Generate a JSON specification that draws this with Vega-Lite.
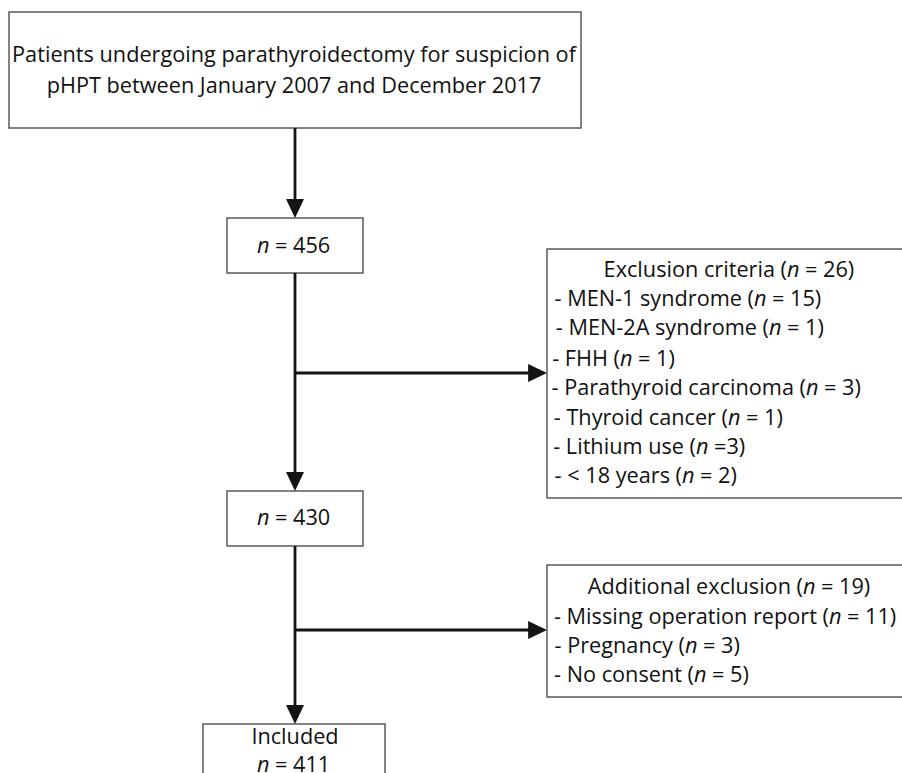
{
  "$schema": "https://vega.github.io/schema/vega-lite/v6.json",
  "width": 902,
  "height": 773,
  "padding": 0,
  "autosize": {"type": "none"},
  "background": "white",
  "config": {"view": {"stroke": null}},
  "datasets": {
    "boxes": [
      {"box": "start", "x": 9, "x2": 581, "y": 12, "y2": 128},
      {"box": "n456", "x": 227, "x2": 363, "y": 218, "y2": 273},
      {"box": "exclusion", "x": 547, "x2": 910, "y": 249, "y2": 498},
      {"box": "n430", "x": 227, "x2": 363, "y": 491, "y2": 546},
      {"box": "additional", "x": 547, "x2": 910, "y": 565, "y2": 697},
      {"box": "included", "x": 203, "x2": 385, "y": 724, "y2": 800}
    ],
    "links": [
      {"x": 295, "y": 128, "x2": 295, "y2": 205},
      {"x": 295, "y": 273, "x2": 295, "y2": 478},
      {"x": 295, "y": 373, "x2": 534, "y2": 373},
      {"x": 295, "y": 546, "x2": 295, "y2": 711},
      {"x": 295, "y": 630, "x2": 534, "y2": 630}
    ],
    "heads": [
      {"x": 295, "y": 218, "dir": "down"},
      {"x": 295, "y": 491, "dir": "down"},
      {"x": 547, "y": 373, "dir": "right"},
      {"x": 295, "y": 724, "dir": "down"},
      {"x": 547, "y": 630, "dir": "right"}
    ],
    "plain": [
      {"t": "Patients undergoing parathyroidectomy for suspicion of", "x": 294, "y": 55},
      {"t": "pHPT between January 2007 and December 2017", "x": 294, "y": 86},
      {"t": "Included", "x": 295, "y": 737}
    ],
    "seg": [
      {"pre": "", "post": "= 456", "nx": 257, "y": 246},
      {"pre": "Exclusion criteria (", "post": "= 26)", "nx": 787, "y": 270},
      {"pre": "- MEN-1 syndrome (", "post": "= 15)", "nx": 754, "y": 299},
      {"pre": "- MEN-2A syndrome (", "post": "= 1)", "nx": 769, "y": 328},
      {"pre": "- FHH (", "post": "= 1)", "nx": 620, "y": 359},
      {"pre": "- Parathyroid carcinoma (", "post": "= 3)", "nx": 806, "y": 388},
      {"pre": "- Thyroid cancer (", "post": "= 1)", "nx": 728, "y": 418},
      {"pre": "- Lithium use (", "post": "=3)", "nx": 696, "y": 447},
      {"pre": "- < 18 years (", "post": "= 2)", "nx": 682, "y": 476},
      {"pre": "", "post": "= 430", "nx": 257, "y": 518},
      {"pre": "Additional exclusion (", "post": "= 19)", "nx": 803, "y": 587},
      {"pre": "- Missing operation report (", "post": "= 11)", "nx": 829, "y": 617},
      {"pre": "- Pregnancy (", "post": "= 3)", "nx": 685, "y": 646},
      {"pre": "- No consent (", "post": "= 5)", "nx": 694, "y": 675},
      {"pre": "", "post": "= 411", "nx": 257, "y": 765}
    ]
  },
  "layer": [
    {
      "data": {"name": "boxes"},
      "mark": {"type": "rect", "fill": "white", "stroke": "#595959", "strokeWidth": 1.5},
      "encoding": {
        "x": {"field": "x", "type": "quantitative", "scale": {"domain": [0, 902], "nice": false, "zero": false}, "axis": null},
        "x2": {"field": "x2"},
        "y": {"field": "y", "type": "quantitative", "scale": {"domain": [0, 773], "nice": false, "zero": false, "reverse": true}, "axis": null},
        "y2": {"field": "y2"}
      }
    },
    {
      "data": {"name": "links"},
      "mark": {"type": "rule", "color": "#141414", "strokeWidth": 2.8},
      "encoding": {
        "x": {"field": "x", "type": "quantitative"},
        "x2": {"field": "x2"},
        "y": {"field": "y", "type": "quantitative"},
        "y2": {"field": "y2"}
      }
    },
    {
      "data": {"name": "heads"},
      "mark": {"type": "point", "filled": true, "color": "#141414", "opacity": 1, "size": 324, "strokeWidth": 0},
      "encoding": {
        "x": {"field": "x", "type": "quantitative"},
        "y": {"field": "y", "type": "quantitative"},
        "shape": {"field": "dir", "type": "nominal", "legend": null,
          "scale": {"domain": ["down", "right"], "range": ["M0,0L-1,-2.1L1,-2.1Z", "M0,0L-2.1,-1L-2.1,1Z"]}}
      }
    },
    {
      "data": {"name": "plain"},
      "mark": {"type": "text", "font": "Open Sans", "fontSize": 21.7, "color": "#111111", "align": "center", "baseline": "middle"},
      "encoding": {
        "x": {"field": "x", "type": "quantitative"},
        "y": {"field": "y", "type": "quantitative"},
        "text": {"field": "t"}
      }
    },
    {
      "data": {"name": "seg"},
      "mark": {"type": "text", "font": "Open Sans", "fontSize": 21.7, "color": "#111111", "align": "right", "baseline": "middle"},
      "encoding": {
        "x": {"field": "nx", "type": "quantitative"},
        "y": {"field": "y", "type": "quantitative"},
        "text": {"field": "pre"}
      }
    },
    {
      "data": {"name": "seg"},
      "mark": {"type": "text", "font": "Open Sans", "fontSize": 21.7, "fontStyle": "italic", "color": "#111111", "align": "left", "baseline": "middle"},
      "encoding": {
        "x": {"field": "nx", "type": "quantitative"},
        "y": {"field": "y", "type": "quantitative"},
        "text": {"value": "n"}
      }
    },
    {
      "data": {"name": "seg"},
      "mark": {"type": "text", "font": "Open Sans", "fontSize": 21.7, "color": "#111111", "align": "left", "baseline": "middle", "dx": 18},
      "encoding": {
        "x": {"field": "nx", "type": "quantitative"},
        "y": {"field": "y", "type": "quantitative"},
        "text": {"field": "post"}
      }
    }
  ]
}
